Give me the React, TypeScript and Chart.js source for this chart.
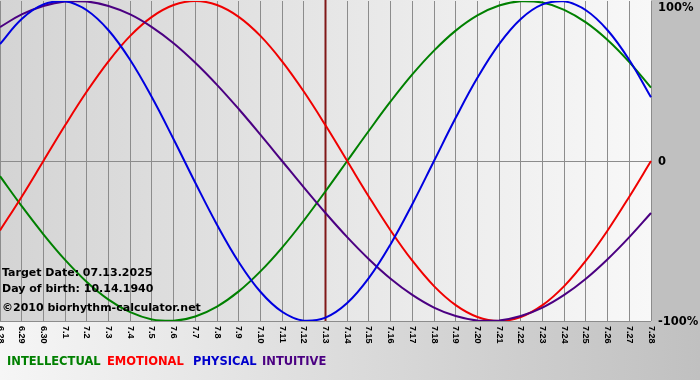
import React, { useEffect, useRef } from "react";
import { Chart, registerables } from "chart.js";

Chart.register(...registerables);

const dayLabels = [
  "6.28", "6.29", "6.30", "7.1", "7.2", "7.3", "7.4", "7.5", "7.6", "7.7", "7.8",
  "7.9", "7.10", "7.11", "7.12", "7.13", "7.14", "7.15", "7.16", "7.17", "7.18",
  "7.19", "7.20", "7.21", "7.22", "7.23", "7.24", "7.25", "7.26", "7.27", "7.28",
];

const physical = [
  73.1, 88.8, 97.9, 99.8, 94.2, 81.7, 63.1, 39.8, 13.6, -13.6, -39.8, -63.1, -81.7, -94.2, -99.8, -97.9,
  -88.8, -73.1, -52.0, -27.0, 0, 27.0, 52.0, 73.1, 88.8, 97.9, 99.8, 94.2, 81.7, 63.1, 39.8,
];
const emotional = [
  -43.4, -22.3, 0, 22.3, 43.4, 62.3, 78.2, 90.1, 97.5, 100, 97.5, 90.1, 78.2, 62.3, 43.4, 22.3,
  0, -22.3, -43.4, -62.3, -78.2, -90.1, -97.5, -100, -97.5, -90.1, -78.2, -62.3, -43.4, -22.3, 0,
];
const intellectual = [
  -9.5, -28.2, -45.8, -61.8, -75.6, -86.6, -94.5, -99.0, -99.9, -97.2, -91.0, -81.5, -69.0, -54.1, -37.2, -18.9,
  0, 18.9, 37.2, 54.1, 69.0, 81.5, 91.0, 97.2, 99.9, 99.0, 94.5, 86.6, 75.6, 61.8, 45.8,
];
const intuitive = [
  83.7, 91.6, 96.9, 99.7, 99.7, 96.9, 91.6, 83.7, 73.6, 61.4, 47.6, 32.5, 16.5, 0, -16.5, -32.5,
  -47.6, -61.4, -73.6, -83.7, -91.6, -96.9, -99.7, -99.7, -96.9, -91.6, -83.7, -73.6, -61.4, -47.6, -32.5,
];

const targetDay = "7.13";
const yTickValues = [100, 0, -100];
const yTickLabels = ["100%", "0", "-100%"];
const legendNames = ["INTELLECTUAL", "EMOTIONAL", "PHYSICAL", "INTUITIVE"];
const legendColors = ["#008000", "#ff0000", "#0000cc", "#4b0082"];
const infoLines = ["Target Date: 07.13.2025", "Day of birth: 10.14.1940"];
const copyright = "\u00a92010 biorhythm-calculator.net";

const legendX = [7, 107, 193, 262];

const decorPlugin = {
  id: "decor",
  beforeDraw(chart: any) {
    const { ctx, chartArea: a, width, height } = chart;
    ctx.save();
    ctx.fillStyle = "#c0c0c0";
    ctx.fillRect(a.right, 0, width - a.right, a.bottom);
    const gb = ctx.createLinearGradient(0, 0, width, 0);
    gb.addColorStop(0, "#f6f6f6");
    gb.addColorStop(1, "#c0c0c0");
    ctx.fillStyle = gb;
    ctx.fillRect(0, a.bottom, width, height - a.bottom);
    const gp = ctx.createLinearGradient(a.left, 0, a.right, 0);
    gp.addColorStop(0, "#d4d4d4");
    gp.addColorStop(1, "#f8f8f8");
    ctx.fillStyle = gp;
    ctx.fillRect(a.left, 0, a.right - a.left, a.bottom);
    ctx.restore();
  },
  beforeDatasetsDraw(chart: any) {
    const { ctx, chartArea: a, scales } = chart;
    const x = scales.x.getPixelForValue(dayLabels.indexOf(targetDay));
    ctx.save();
    ctx.strokeStyle = "#801818";
    ctx.lineWidth = 2;
    ctx.beginPath();
    ctx.moveTo(x, 0);
    ctx.lineTo(x, a.bottom);
    ctx.stroke();
    ctx.restore();
  },
  afterDraw(chart: any) {
    const { ctx, chartArea: a, scales } = chart;
    ctx.save();
    ctx.fillStyle = "#000";
    ctx.font = "bold 9px 'Liberation Sans'";
    ctx.textAlign = "left";
    ctx.textBaseline = "middle";
    dayLabels.forEach((lab, i) => {
      const x = scales.x.getPixelForValue(i);
      ctx.save();
      ctx.translate(x, a.bottom + 5);
      ctx.rotate(Math.PI / 2);
      ctx.fillText(lab, 0, 0);
      ctx.restore();
    });
    ctx.font = "bold 11.5px 'DejaVu Sans'";
    ctx.textBaseline = "middle";
    yTickValues.forEach((v, i) => {
      let y = scales.y.getPixelForValue(v) + 1;
      if (y < a.top + 7) y = a.top + 7;
      ctx.fillText(yTickLabels[i], a.right + 7, y);
    });
    ctx.textBaseline = "alphabetic";
    ctx.font = "bold 11px 'DejaVu Sans'";
    ctx.fillText(infoLines[0], 2, 276);
    ctx.fillText(infoLines[1], 2, 292);
    ctx.fillText(copyright, 2, 311);
    ctx.font = "bold 11.5px 'DejaVu Sans'";
    ctx.textBaseline = "middle";
    legendNames.forEach((n, i) => {
      ctx.fillStyle = legendColors[i];
      ctx.fillText(n, legendX[i], 362);
    });
    ctx.restore();
  },
};

export default function App() {
  const ref = useRef<HTMLCanvasElement>(null);
  useEffect(() => {
    document.body.style.margin = "0";
    const canvas = ref.current!;
    const line = (label: string, data: number[], color: string) => ({
      label,
      data,
      borderColor: color,
      borderWidth: 2,
      pointRadius: 0,
      tension: 0.4,
      fill: false,
    });
    const chart = new Chart(canvas, {
      type: "line",
      data: {
        labels: dayLabels,
        datasets: [
          line("PHYSICAL", physical, "#0000e0"),
          line("INTUITIVE", intuitive, "#4b0082"),
          line("EMOTIONAL", emotional, "#f00000"),
          line("INTELLECTUAL", intellectual, "#008000"),
        ],
      },
      options: {
        responsive: false,
        animation: false,
        devicePixelRatio: 1,
        layout: { padding: { left: 0, right: 49, top: 1, bottom: 59 } },
        plugins: { legend: { display: false }, tooltip: { enabled: false } },
        scales: {
          x: {
            offset: false,
            ticks: { display: false },
            grid: { color: "#8c8c8c", drawTicks: false, lineWidth: 1 },
            border: { display: false },
          },
          y: {
            min: -100,
            max: 100,
            ticks: { display: false, stepSize: 100 },
            grid: {
              color: (c: any) => (c.tick && c.tick.value === 100 ? "rgba(0,0,0,0)" : "#8c8c8c"),
              drawTicks: false,
            },
            border: { display: false },
          },
        },
      },
      plugins: [decorPlugin],
    } as any);
    return () => chart.destroy();
  }, []);
  return (
    <div style={{ width: 700, height: 380 }}>
      <canvas ref={ref} width={700} height={380} style={{ display: "block", width: 700, height: 380 }} />
    </div>
  );
}
